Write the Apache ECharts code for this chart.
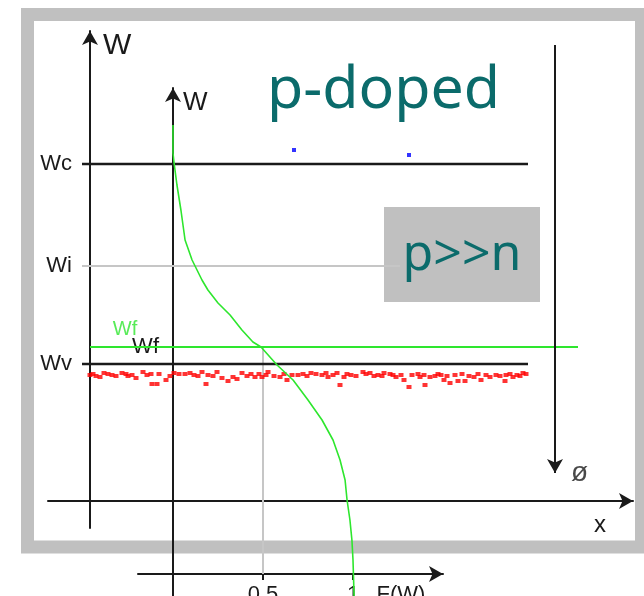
<!DOCTYPE html>
<html>
<head>
<meta charset="utf-8">
<script src="https://cdn.jsdelivr.net/npm/echarts@6/dist/echarts.min.js"></script>
<style>
  html, body { margin: 0; padding: 0; background: #ffffff; }
  #chart { width: 644px; height: 596px; }
</style>
</head>
<body>
<div id="chart"></div>
<script>
// Band diagram of a p-doped semiconductor with the Fermi–Dirac occupation F(W)

// Energy levels (Wv = 0, Wc = 1)
const levelNames = ['Wc', 'Wi', 'Wv', 'Wf'];
const levelValues = [1.0, 0.49, 0.0, 0.085];
const level = Object.fromEntries(levelNames.map((n, i) => [n, levelValues[i]]));

// Extent of the band edges along x
const bandSpan = [-0.08, 4.38];
const intrinsicSpan = [-0.08, 3.1];
const fermiSpan = [0, 4.88];

// Holes in the valence band [x, W]
const holes = [
  [0.00,-0.055],[0.03,-0.05],[0.06,-0.06],[0.10,-0.065],[0.14,-0.045],[0.18,-0.05],[0.22,-0.055],
  [0.26,-0.06],[0.32,-0.045],[0.36,-0.05],[0.38,-0.06],[0.42,-0.055],[0.46,-0.07],[0.53,-0.04],
  [0.57,-0.055],[0.61,-0.05],[0.62,-0.10],[0.67,-0.10],[0.69,-0.05],[0.76,-0.08],[0.80,-0.06],
  [0.84,-0.045],[0.89,-0.05],[0.95,-0.05],[1.00,-0.045],[1.04,-0.055],[1.08,-0.06],[1.12,-0.04],
  [1.16,-0.10],[1.18,-0.055],[1.23,-0.06],[1.27,-0.04],[1.32,-0.07],[1.38,-0.085],[1.43,-0.065],
  [1.47,-0.075],[1.52,-0.045],[1.57,-0.06],[1.61,-0.05],[1.65,-0.065],[1.69,-0.05],[1.72,-0.065],
  [1.76,-0.055],[1.78,-0.04],[1.84,-0.06],[1.90,-0.065],[1.94,-0.05],[1.97,-0.08],[2.02,-0.055],
  [2.08,-0.055],[2.13,-0.05],[2.17,-0.06],[2.21,-0.045],[2.26,-0.05],[2.32,-0.055],[2.36,-0.045],
  [2.38,-0.065],[2.43,-0.055],[2.47,-0.045],[2.50,-0.105],[2.54,-0.065],[2.57,-0.05],[2.61,-0.055],
  [2.66,-0.06],[2.73,-0.04],[2.76,-0.05],[2.80,-0.045],[2.84,-0.06],[2.88,-0.055],[2.92,-0.06],
  [2.94,-0.045],[3.00,-0.05],[3.03,-0.055],[3.06,-0.065],[3.11,-0.055],[3.14,-0.08],[3.19,-0.115],
  [3.22,-0.055],[3.28,-0.05],[3.30,-0.065],[3.34,-0.055],[3.35,-0.105],[3.40,-0.065],[3.45,-0.06],
  [3.48,-0.05],[3.51,-0.055],[3.54,-0.08],[3.57,-0.06],[3.60,-0.095],[3.65,-0.055],[3.68,-0.085],
  [3.72,-0.05],[3.75,-0.085],[3.79,-0.06],[3.84,-0.065],[3.88,-0.05],[3.91,-0.08],[3.96,-0.055],
  [4.00,-0.065],[4.06,-0.055],[4.10,-0.06],[4.15,-0.085],[4.16,-0.055],[4.20,-0.05],[4.23,-0.065],
  [4.27,-0.055],[4.30,-0.06],[4.33,-0.045],[4.36,-0.05]
];

// Electrons in the conduction band [x, W]
const electrons = [[2.04, 1.07], [3.19, 1.045]];

// Electrostatic potential arrow (pointing down) [x, Wtop, Wbottom]
const potentialArrow = [4.65, 1.595, -0.545];

// Fermi–Dirac occupation: F values and matching energies W
const fermiF = [0, 0, 0.006, 0.022, 0.044, 0.067, 0.106, 0.161, 0.194, 0.25, 0.317, 0.383, 0.444,
  0.489, 0.578, 0.667, 0.75, 0.828, 0.889, 0.928, 0.956, 0.967, 0.983, 0.994, 1.0, 1.006];
const fermiW = [1.195, 1.055, 1.005, 0.895, 0.77, 0.62, 0.52, 0.42, 0.37, 0.305, 0.245, 0.17, 0.11,
  0.085, -0.005, -0.08, -0.18, -0.28, -0.38, -0.48, -0.58, -0.68, -0.78, -0.88, -0.98, -1.16];

// F(W) axis tick values and labels
const fTicks = [0.5, 1];
const fTickLabels = ['0,5', '1'];

const TEAL = '#0b6b6b';
const GREEN = '#2ee62e';
const DARK = '#1a1a1a';
const GUIDE = '#c6c6c6';
const FONT = 'Liberation Sans';

const chart = echarts.init(document.getElementById('chart'), null, { renderer: 'canvas' });

const hline = (name, span, w, color, width, xi) => ({
  name, type: 'line', xAxisIndex: xi, yAxisIndex: xi,
  data: [[span[0], w], [span[1], w]],
  symbol: 'none', silent: true, z: 3,
  lineStyle: { color, width }
});

const option = {
  backgroundColor: '#ffffff',
  animation: false,
  title: {
    text: 'p-doped', left: 267, top: 62, padding: 0,
    textStyle: { fontFamily: 'Noto Sans', fontSize: 59, fontWeight: 'normal', color: TEAL }
  },
  graphic: [
    { type: 'rect', z: -10, silent: true,
      shape: { x: 27.5, y: 14.5, width: 614, height: 532.5 },
      style: { fill: 'none', stroke: '#c0c0c0', lineWidth: 13 } },
    { type: 'group', z: 100, children: [
      { type: 'rect', shape: { x: 384, y: 207, width: 156, height: 95 }, style: { fill: '#c0c0c0' } },
      { type: 'text', x: 462, y: 256,
        style: { text: 'p>>n', fill: TEAL, font: 'normal 50px "Noto Sans"', align: 'center', verticalAlign: 'middle' } }
    ] }
  ],
  grid: [
    { left: 48, right: 11, top: 31, bottom: 68, containLabel: false, outerBoundsMode: 'none' },
    { left: 138, right: 201, top: 88, bottom: 0, containLabel: false, outerBoundsMode: 'none' }
  ],
  xAxis: [
    { type: 'value', gridIndex: 0, min: -0.42, max: 5.43, position: 'bottom', offset: -27,
      axisLine: { onZero: false, lineStyle: { color: DARK, width: 2 }, symbol: ['none', 'arrow'], symbolSize: [12, 14] },
      axisTick: { show: false }, axisLabel: { show: false }, splitLine: { show: false },
      name: 'x', nameLocation: 'end', nameGap: -33,
      nameTextStyle: { fontFamily: FONT, fontSize: 24, color: DARK, align: 'center', verticalAlign: 'top', padding: [12, 0, 0, 0] } },
    { type: 'value', gridIndex: 1, min: -0.1944, max: 1.5, position: 'bottom', offset: -22,
      axisLine: { onZero: false, lineStyle: { color: DARK, width: 2 }, symbol: ['none', 'arrow'], symbolSize: [12, 14] },
      axisTick: { show: true, customValues: fTicks, length: 6, inside: false, lineStyle: { color: DARK, width: 2 } },
      axisLabel: { show: true, customValues: fTicks, margin: 10, fontFamily: FONT, fontSize: 22, color: DARK,
        formatter: v => fTickLabels[fTicks.indexOf(v)] },
      splitLine: { show: false },
      name: 'F(W)', nameLocation: 'end', nameGap: -42,
      nameTextStyle: { fontFamily: FONT, fontSize: 22, color: DARK, align: 'center', verticalAlign: 'top', padding: [10, 0, 0, 0] } }
  ],
  yAxis: [
    { type: 'value', gridIndex: 0, min: -0.82, max: 1.665, position: 'left', offset: -42,
      axisLine: { onZero: false, lineStyle: { color: DARK, width: 2 }, symbol: ['none', 'arrow'], symbolSize: [12, 14] },
      axisTick: { show: false }, splitLine: { show: false },
      axisLabel: { show: true, customValues: [level.Wv, level.Wi, level.Wc], margin: 18,
        fontFamily: FONT, fontSize: 22, color: DARK,
        formatter: v => levelNames[levelValues.indexOf(v)] },
      name: 'W', nameLocation: 'end', nameGap: 0,
      nameTextStyle: { fontFamily: FONT, fontSize: 30, color: DARK, align: 'left', verticalAlign: 'top', padding: [0, 0, 0, 13] } },
    { type: 'value', gridIndex: 1, min: -1.16, max: 1.38, position: 'left', offset: -35,
      axisLine: { onZero: false, lineStyle: { color: DARK, width: 2 }, symbol: ['none', 'arrow'], symbolSize: [12, 14] },
      axisTick: { show: true, customValues: [level.Wf], length: 5, lineStyle: { color: DARK, width: 2 } },
      splitLine: { show: false },
      axisLabel: { show: true, customValues: [level.Wf], margin: 14, fontFamily: FONT, fontSize: 22, color: DARK,
        formatter: () => 'Wf' },
      name: 'W', nameLocation: 'end', nameGap: -2,
      nameTextStyle: { fontFamily: FONT, fontSize: 26, color: DARK, align: 'left', verticalAlign: 'top', padding: [0, 0, 0, 10] } }
  ],
  series: [
    hline('Wc', bandSpan, level.Wc, DARK, 2.5, 0),
    hline('Wi', intrinsicSpan, level.Wi, GUIDE, 2, 0),
    hline('Wv', bandSpan, level.Wv, DARK, 2.5, 0),
    {
      name: 'holes', type: 'scatter', xAxisIndex: 0, yAxisIndex: 0, z: 4, silent: true,
      data: holes, symbol: 'rect', symbolSize: [5, 4], itemStyle: { color: '#ff0000' }
    },
    {
      name: 'electrons', type: 'scatter', xAxisIndex: 0, yAxisIndex: 0, z: 4, silent: true,
      data: electrons, symbol: 'rect', symbolSize: [4, 4], itemStyle: { color: '#0000ff' }
    },
    {
      name: 'potential', type: 'line', xAxisIndex: 0, yAxisIndex: 0, data: [], silent: true,
      markLine: {
        silent: true, symbol: ['none', 'arrow'], symbolSize: [12, 14],
        lineStyle: { color: DARK, width: 2, type: 'solid' }, label: { show: false },
        data: [[{ coord: [potentialArrow[0], potentialArrow[1]] }, { coord: [potentialArrow[0], potentialArrow[2]] }]]
      }
    },
    {
      name: 'captions', type: 'scatter', xAxisIndex: 0, yAxisIndex: 0, silent: true, symbolSize: 0, z: 6,
      data: [
        { value: [0.35, level.Wf], label: { formatter: 'Wf', position: 'top', distance: 8, color: GREEN, fontSize: 20 } },
        { value: [potentialArrow[0], potentialArrow[2]], label: { formatter: 'ø', position: 'right', distance: 16, color: DARK, fontSize: 28 } }
      ],
      label: { show: true, fontFamily: FONT }
    },
    {
      name: 'guides', type: 'line', xAxisIndex: 1, yAxisIndex: 1, symbol: 'none', silent: true, z: 2,
      data: [[0, level.Wf], [0.5, level.Wf], [0.5, -1.05]],
      lineStyle: { color: GUIDE, width: 2 }
    },
    hline('Wf', fermiSpan, level.Wf, GREEN, 2, 0),
    {
      name: 'F(W)', type: 'line', xAxisIndex: 1, yAxisIndex: 1, symbol: 'none', silent: true, z: 5,
      data: fermiF.map((f, i) => [f, fermiW[i]]),
      lineStyle: { color: GREEN, width: 1.6 }
    }
  ]
};

chart.setOption(option);
</script>
</body>
</html>
